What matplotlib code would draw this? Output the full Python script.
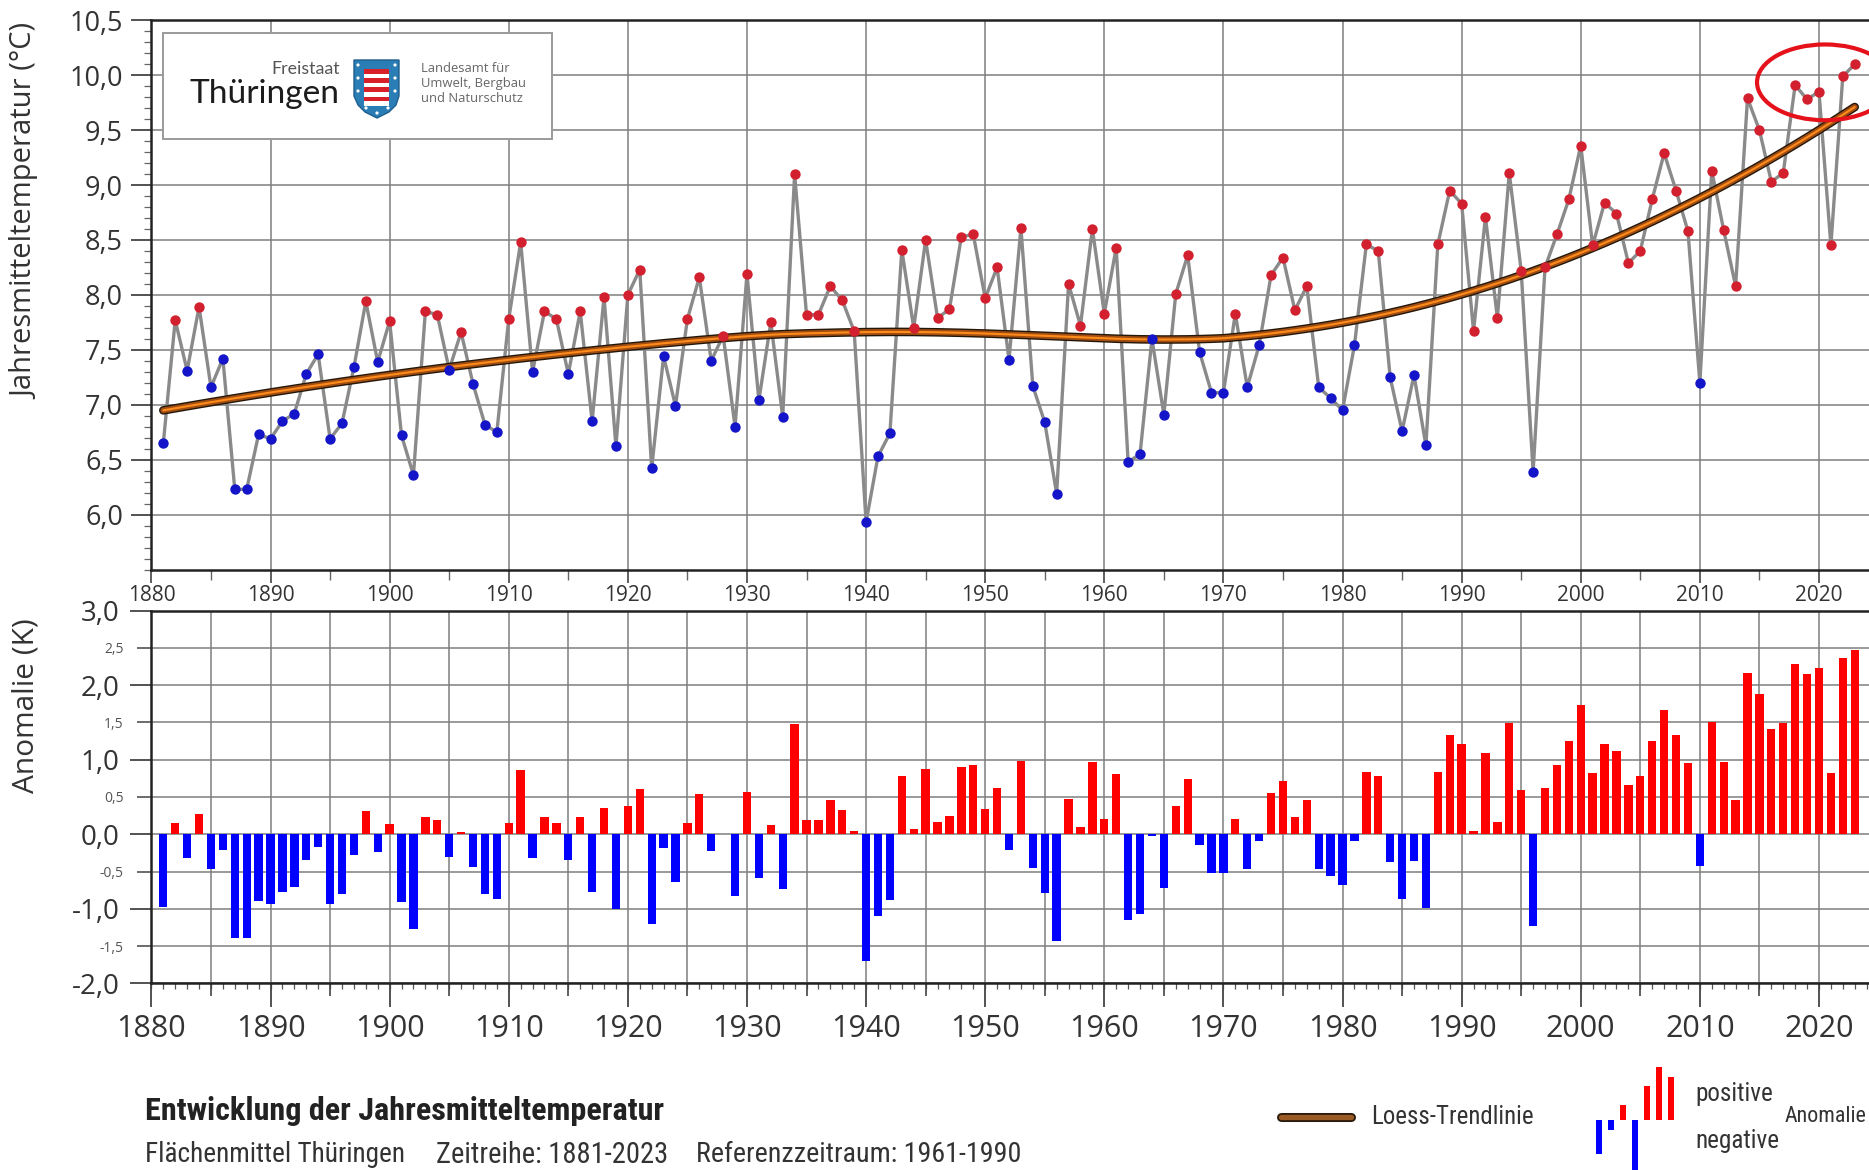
import numpy as np
import matplotlib
matplotlib.use("Agg")
import matplotlib.pyplot as plt
from matplotlib import font_manager as fm
from matplotlib.patches import Ellipse, Rectangle, Polygon, Circle
from matplotlib.ticker import MultipleLocator, FixedLocator, FuncFormatter
from matplotlib.lines import Line2D

# ---------------- data ----------------
YEARS = list(range(1881, 2024))
TEMP = [
    6.65, 7.77, 7.31, 7.89, 7.16, 7.42, 6.23, 6.23, 6.73, 6.69,   # 1881-1890
    6.85, 6.92, 7.28, 7.46, 6.69, 6.83, 7.34, 7.94, 7.39, 7.76,   # 1891-1900
    6.72, 6.36, 7.85, 7.82, 7.32, 7.66, 7.19, 6.82, 6.75, 7.78,   # 1901-1910
    8.48, 7.30, 7.85, 7.78, 7.28, 7.85, 6.85, 7.98, 6.62, 8.00,   # 1911-1920
    8.23, 6.42, 7.44, 6.99, 7.78, 8.16, 7.40, 7.63, 6.80, 8.19,   # 1921-1930
    7.04, 7.75, 6.89, 9.10, 7.82, 7.82, 8.08, 7.95, 7.67, 5.93,   # 1931-1940
    6.53, 6.74, 8.41, 7.70, 8.50, 7.79, 7.87, 8.53, 8.55, 7.97,   # 1941-1950
    8.25, 7.41, 8.61, 7.17, 6.84, 6.19, 8.10, 7.72, 8.60, 7.83,   # 1951-1960
    8.43, 6.48, 6.55, 7.60, 6.91, 8.01, 8.36, 7.48, 7.11, 7.11,   # 1961-1970
    7.83, 7.16, 7.54, 8.18, 8.34, 7.86, 8.08, 7.16, 7.06, 6.95,   # 1971-1980
    7.54, 8.46, 8.40, 7.25, 6.76, 7.27, 6.63, 8.46, 8.95, 8.83,   # 1981-1990
    7.67, 8.71, 7.79, 9.11, 8.22, 6.39, 8.25, 8.55, 8.87, 9.36,   # 1991-2000
    8.45, 8.84, 8.74, 8.29, 8.40, 8.87, 9.29, 8.95, 8.58, 7.20,   # 2001-2010
    9.13, 8.59, 8.08, 9.79, 9.50, 9.03, 9.11, 9.91, 9.78, 9.85,   # 2011-2020
    8.45, 9.99, 10.10,                                            # 2021-2023
]
REF_PERIOD = (1961, 1990)
TOP_YTICKS = [6.0, 6.5, 7.0, 7.5, 8.0, 8.5, 9.0, 9.5, 10.0, 10.5]
BOT_YTICKS_MAJOR = [-2.0, -1.0, 0.0, 1.0, 2.0, 3.0]
BOT_YTICKS_MINOR = [-1.5, -0.5, 0.5, 1.5, 2.5]
XTICKS = list(range(1880, 2021, 10))
LEGEND_ICON_BARS = [-34, -10, 15, -55, 34, 53, 43]   # decorative legend glyph

TITLE = "Entwicklung der Jahresmitteltemperatur"
SUB = ["Flächenmittel Thüringen", "Zeitreihe: 1881-2023", "Referenzzeitraum: 1961-1990"]

# ---------------- fonts ----------------
names = {f.name for f in fm.fontManager.ttflist}
BASE = ["Open Sans", "DejaVu Sans"]
if "Roboto Condensed" in names:
    COND = ["Roboto Condensed", "DejaVu Sans"]
elif "Liberation Sans Narrow" in names:
    COND = ["Liberation Sans Narrow", "DejaVu Sans"]
else:
    COND = ["Roboto", "DejaVu Sans"]
plt.rcParams["font.family"] = BASE

TXT = "#333333"
GRID = "#7f7f7f"

# ---------------- helpers ----------------
def loess(x, y, span=0.75, degree=2):
    n = len(x)
    q = int(np.floor(n * span))
    out = np.empty(n)
    for i, x0 in enumerate(x):
        d = np.abs(x - x0)
        h = np.sort(d)[q - 1]
        w = np.clip(1 - (d / h) ** 3, 0, None) ** 3
        X = np.vander(x - x0, degree + 1)
        sw = np.sqrt(w)
        beta, *_ = np.linalg.lstsq(X * sw[:, None], y * sw, rcond=None)
        out[i] = beta[-1]
    return out

comma = FuncFormatter(lambda v, p: f"{v:.1f}".replace(".", ","))

W, H = 1869, 1170
fig = plt.figure(figsize=(W / 100, H / 100), dpi=100)
fig.patch.set_facecolor("white")

L = 151.4
axT = fig.add_axes([L / W, 1 - 569.5 / H, 1 - L / W, (569.5 - 20.3) / H])
axB = fig.add_axes([L / W, 1 - 983.4 / H, 1 - L / W, (983.4 - 610.5) / H])

years = np.array(YEARS, dtype=float)
temp = np.array(TEMP)
ref = temp[(years >= REF_PERIOD[0]) & (years <= REF_PERIOD[1])].mean()
anom = temp - ref
pos = anom >= 0

XMAX = 2024.2

# ---------------- top panel ----------------
axT.set_axisbelow(True)
axT.plot(years, temp, color="#8a8a8a", lw=2.4, zorder=3)
trend = loess(years, temp)
axT.plot(years, trend, color="#24170a", lw=6.2, zorder=4, solid_capstyle="round")
axT.plot(years, trend, color="#a24e12", lw=4.2, zorder=4, solid_capstyle="round")
axT.plot(years, trend, color="#ff8c1a", lw=1.5, zorder=4, solid_capstyle="round")
axT.scatter(years[pos], temp[pos], s=56, color="#d3202e", zorder=5, linewidths=0)
axT.scatter(years[~pos], temp[~pos], s=56, color="#1414c8", zorder=5, linewidths=0)

axT.set_xlim(1880, XMAX)
axT.set_ylim(5.5, 10.5)
axT.yaxis.set_major_locator(FixedLocator(TOP_YTICKS))
axT.yaxis.set_major_formatter(comma)
axT.yaxis.set_minor_locator(MultipleLocator(0.1))
axT.xaxis.set_major_locator(FixedLocator(XTICKS))
axT.xaxis.set_minor_locator(MultipleLocator(5))
axT.grid(True, which="major", color=GRID, lw=1.1)
axT.tick_params(axis="y", which="major", length=14.5, width=1.3, pad=6,
                labelsize=19.5, labelcolor=TXT, color="#444")
axT.tick_params(axis="y", which="minor", length=5, width=0.9, color="#666")
axT.tick_params(axis="x", which="major", length=9, width=1.2, pad=2.5,
                labelsize=15, labelcolor=TXT, color="#444")
axT.tick_params(axis="x", which="minor", length=7, width=1.0, color="#666")
for s in ["top", "left", "bottom"]:
    axT.spines[s].set_color("#222")
    axT.spines[s].set_linewidth(1.8)
axT.spines["right"].set_visible(False)

axT.add_patch(Ellipse((2020.5, 9.935), 11.4, 0.69, fill=False,
                      ec="#e5121b", lw=3.0, zorder=6))

# ---------------- bottom panel ----------------
axB.set_axisbelow(True)
axB.bar(years, anom, width=0.7, color=np.where(pos, "#ff0000", "#0000ff"),
        zorder=3, linewidth=0)
axB.set_xlim(1880, XMAX)
axB.set_ylim(-2.0, 3.0)
axB.yaxis.set_major_locator(FixedLocator(BOT_YTICKS_MAJOR))
axB.yaxis.set_minor_locator(FixedLocator(BOT_YTICKS_MINOR))
axB.yaxis.set_major_formatter(comma)
axB.yaxis.set_minor_formatter(comma)
axB.xaxis.set_major_locator(FixedLocator(XTICKS))
axB.xaxis.set_minor_locator(MultipleLocator(5))
axB.grid(True, which="both", color=GRID, lw=1.1)
axB.tick_params(axis="y", which="major", length=15, width=1.3, pad=8,
                labelsize=20, labelcolor=TXT, color="#444")
axB.tick_params(axis="y", which="minor", length=10, width=1.1, pad=10,
                labelsize=10, labelcolor="#555", color="#444")
axB.tick_params(axis="x", which="major", length=17, width=1.3, pad=5,
                labelsize=22, labelcolor=TXT, color="#444")
axB.tick_params(axis="x", which="minor", length=9, width=1.2, color="#444")
for s in ["top", "left", "bottom"]:
    axB.spines[s].set_color("#222")
    axB.spines[s].set_linewidth(1.8)
axB.spines["right"].set_visible(False)
sec = axB.secondary_xaxis("bottom")
sec.xaxis.set_major_locator(MultipleLocator(1))
sec.tick_params(axis="x", length=4.5, width=0.9, color="#555", labelbottom=False)
sec.spines["bottom"].set_visible(False)

# axis labels
fig.text(26 / W, 1 - 211.6 / H, "Jahresmitteltemperatur (°C)", rotation=90,
         ha="center", va="center", fontsize=21, color=TXT)
fig.text(26 / W, 1 - 706 / H, "Anomalie (K)", rotation=90,
         ha="center", va="center", fontsize=21.5, color=TXT)

# ---------------- overlay (logo, footer, legend) ----------------
ov = fig.add_axes([0, 0, 1, 1])
ov.set_xlim(0, W)
ov.set_ylim(H, 0)
ov.axis("off")
ov.patch.set_alpha(0)

renderer = fig.canvas.get_renderer()

def fit(x, y, s, width, **kw):
    t = ov.text(x, y, s, **kw)
    bb = t.get_window_extent(renderer=renderer)
    t.set_fontsize(t.get_fontsize() * width / bb.width)
    return t

# logo box
ov.add_patch(Rectangle((163, 33), 389, 106, fc="white", ec="#9a9a9a", lw=1.4, zorder=2))
fit(340, 69, "Freistaat", 68, ha="right", va="center", color="#555555",
    family=["Lato", "DejaVu Sans"], fontsize=12, zorder=3)
fit(190, 94, "Thüringen", 150, ha="left", va="center", color="#1c1c1c",
    family=["Lato", "DejaVu Sans"], fontsize=24, zorder=3)
# coat of arms (simplified shield)
shield = [(354, 60), (399, 60), (399, 96), (396, 105), (389, 112), (377, 118),
          (365, 112), (358, 105), (354, 96)]
ov.add_patch(Polygon(shield, closed=True, fc="#2b7db5", ec="#1d5f8e", lw=1, zorder=3))
for k in range(8):
    ov.add_patch(Rectangle((364, 69 + k * 4.6), 25, 4.6,
                           fc="#d8202a" if k % 2 == 0 else "white", ec="none", zorder=4))
for (cx, cy) in [(358, 65), (395, 65), (358, 78), (395, 78), (358, 91), (395, 91),
                 (366, 108), (388, 108), (377, 113)]:
    ov.add_patch(Circle((cx, cy), 1.6, fc="white", ec="none", zorder=5))
t0 = fit(421, 83, "Umwelt, Bergbau", 106, ha="left", va="center", color="#666666",
         fontsize=9, zorder=3)
fsz = t0.get_fontsize()
ov.text(421, 68, "Landesamt für", ha="left", va="center", color="#666666", fontsize=fsz, zorder=3)
ov.text(421, 98, "und Naturschutz", ha="left", va="center", color="#666666", fontsize=fsz, zorder=3)

# footer titles
fit(145, 1111, TITLE, 520, ha="left", va="center", fontweight="bold",
    color="#222222", family=COND, fontsize=18)
for (x0, wdt, s) in zip([145, 436, 696], [261, 233, 327], SUB):
    fit(x0, 1155, s, wdt, ha="left", va="center", color="#333333", family=COND, fontsize=14)

# legend: loess line
ov.add_line(Line2D([1281, 1351], [1117, 1117], color="#2a1a0c", lw=6.5, solid_capstyle="round"))
ov.add_line(Line2D([1281, 1351], [1117, 1117], color="#9a5a25", lw=3.8, solid_capstyle="round"))
fit(1371, 1117, "Loess-Trendlinie", 163, ha="left", va="center", color="#333333",
    family=COND, fontsize=14)

# legend: anomaly bars glyph
for k, hgt in enumerate(LEGEND_ICON_BARS):
    x0 = 1596 + k * 12
    col = "#ff0000" if hgt > 0 else "#0000ff"
    ov.add_patch(Rectangle((x0, 1120), 6, -hgt, fc=col, ec="none"))
tp = fit(1695, 1094, "positive", 78, ha="left", va="center", color="#333333",
         family=COND, fontsize=14)
ov.text(1695, 1141, "negative", ha="left", va="center", color="#333333",
        family=COND, fontsize=tp.get_fontsize())
ov.text(W - 3, 1116, "Anomalie", ha="right", va="center", color="#333333",
        family=COND, fontsize=tp.get_fontsize() * 0.88)

fig.savefig("out.png", dpi=100, facecolor="white")
